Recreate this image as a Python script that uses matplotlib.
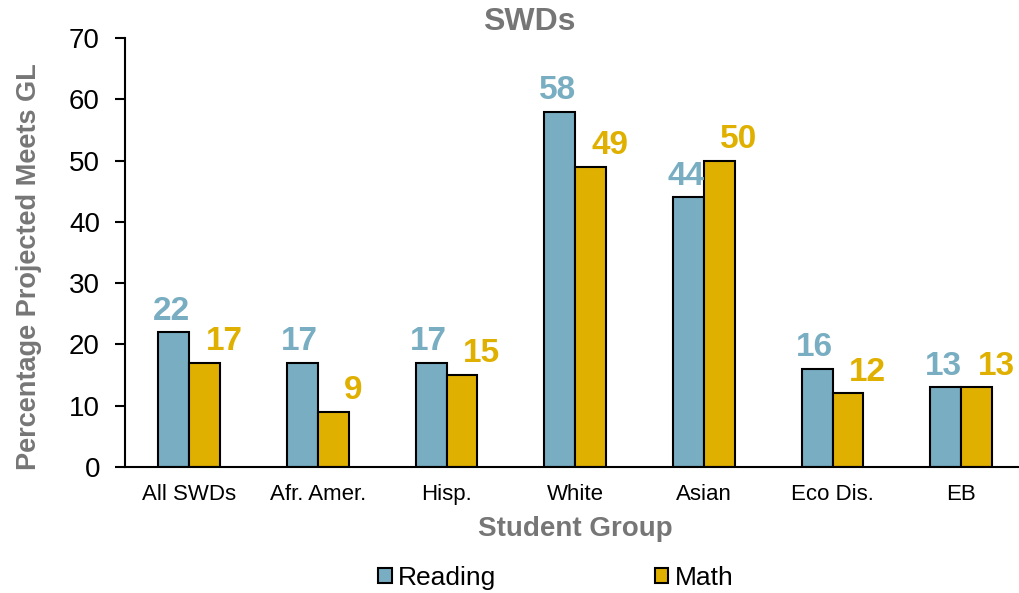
import numpy as np
import matplotlib.pyplot as plt

plt.rcParams['font.family'] = ['Liberation Sans', 'DejaVu Sans']

# data
groups = ['All SWDs', 'Afr. Amer.', 'Hisp.', 'White', 'Asian', 'Eco Dis.', 'EB']
reading = [22, 17, 17, 58, 44, 16, 13]
math = [17, 9, 15, 49, 50, 12, 13]

c_read = '#78ADC2'
c_math = '#E0B000'
grey = '#767676'

fig = plt.figure(figsize=(10.2, 5.93), dpi=100)
ax = fig.add_axes([0.1225, 0.2125, 0.883, 0.7235])

x = np.arange(len(groups))
w = 0.24
b1 = ax.bar(x - w/2, reading, w, color=c_read, edgecolor='black', linewidth=1.5, label='Reading')
b2 = ax.bar(x + w/2, math, w, color=c_math, edgecolor='black', linewidth=1.5, label='Math')

for xi, v in zip(x, reading):
    ax.annotate(str(v), (xi - w/2, v), xytext=(-2, 4), textcoords='offset points',
                ha='center', va='bottom', fontsize=24, fontweight='bold', color=c_read)
for xi, v in zip(x, math):
    ax.annotate(str(v), (xi + w/2, v), xytext=(14, 4), textcoords='offset points',
                ha='center', va='bottom', fontsize=24, fontweight='bold', color=c_math)

ax.set_xlim(-0.5, 6.5)
ax.set_ylim(0, 70)
ax.set_yticks(range(0, 71, 10))
ax.set_xticks(x)
ax.set_xticklabels(groups, fontsize=16)
ax.tick_params(axis='y', labelsize=20, length=7, width=1.5, direction='out', pad=11)
ax.tick_params(axis='x', length=0, pad=12)
for s in ['top', 'right']:
    ax.spines[s].set_visible(False)
ax.spines['left'].set_linewidth(1.5)
ax.spines['bottom'].set_linewidth(1.5)

ax.set_xlabel('Student Group', fontsize=20, fontweight='bold', color=grey, labelpad=8)
ax.set_ylabel('Percentage Projected Meets GL', fontsize=19.5, fontweight='bold', color=grey)
ax.yaxis.set_label_coords(-0.092, 0.466)
fig.text(0.519, 0.963, 'SWDs', ha='center', va='center', fontsize=23, fontweight='bold', color=grey)

fig.legend(handles=[b1, b2], loc='center', bbox_to_anchor=(0.545, 0.025), ncol=2,
           frameon=False, fontsize=19, columnspacing=6.0, handlelength=0.5, handleheight=0.5,
           handletextpad=0.25)

fig.savefig('out.png', dpi=100)
